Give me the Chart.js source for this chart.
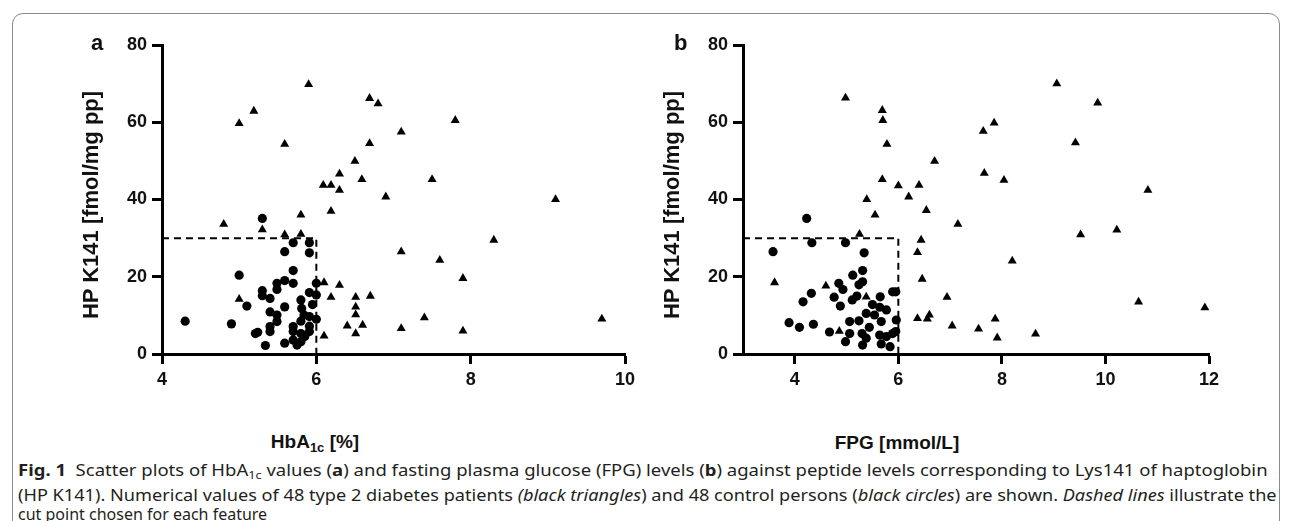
<!DOCTYPE html>
<html>
<head>
<meta charset="utf-8">
<script src="https://cdn.jsdelivr.net/npm/chart.js@4.4.1/dist/chart.umd.min.js"></script>
<style>
  html, body { margin: 0; padding: 0; background: #fff; }
  body { width: 1293px; height: 521px; position: relative; overflow: hidden; font-family: "Liberation Sans", Arial, sans-serif; }
  .frame { position: absolute; left: 12px; top: 13px; width: 1268px; height: 560px; border: 1.5px solid #8a8a8a; border-radius: 11px; box-sizing: border-box; }
  canvas { position: absolute; }
  .panel { position: absolute; font-weight: bold; font-size: 22px; color: #111; }
  .ytitle { position: absolute; font-weight: bold; font-size: 22px; color: #111; white-space: nowrap; transform: translate(-50%, -50%) rotate(-90deg); }
  .xtitle { position: absolute; font-weight: bold; font-size: 19px; color: #111; white-space: nowrap; transform: translate(-50%, -50%); }
  .xtitle sub { font-size: 13px; vertical-align: -4px; }
  .cap { position: absolute; left: 18px; font-family: "Noto Sans", sans-serif; font-size: 16px; color: #231f20; white-space: nowrap; transform-origin: 0 50%; }
  .cap sub { font-size: 11px; vertical-align: -3px; }
</style>
</head>
<body>
<div class="frame"></div>

<canvas id="chartA" width="630" height="380" style="left:20px;top:20px;width:630px;height:380px"></canvas>
<canvas id="chartB" width="570" height="380" style="left:660px;top:20px;width:570px;height:380px"></canvas>

<div class="panel" style="left:91px;top:30px">a</div>
<div class="panel" style="left:674px;top:30px">b</div>
<div class="ytitle" style="left:91px;top:205px">HP K141 [fmol/mg pp]</div>
<div class="ytitle" style="left:672px;top:205px">HP K141 [fmol/mg pp]</div>
<div class="xtitle" style="left:315px;top:443px">HbA<sub>1c</sub> [%]</div>
<div class="xtitle" style="left:897px;top:443px">FPG [mmol/L]</div>

<div class="cap" id="cap1" style="top:459px"><b>Fig. 1</b>&nbsp; Scatter plots of HbA<sub>1c</sub> values (<b>a</b>) and fasting plasma glucose (FPG) levels (<b>b</b>) against peptide levels corresponding to Lys141 of haptoglobin</div>
<div class="cap" id="cap2" style="top:484px">(HP K141). Numerical values of 48 type 2 diabetes patients <i>(black triangles</i>) and 48 control persons (<i>black circles</i>) are shown. <i>Dashed lines</i> illustrate the</div>
<div class="cap" id="cap3" style="top:503px">cut point chosen for each feature</div>

<script>
// ===== DATA =====
// panel a: HbA1c [%] vs HP K141
const hbaDiabetesX = [5.0, 5.19, 5.9, 5.59, 6.69, 6.8, 6.69, 6.5, 6.3, 6.59, 6.09, 6.19, 6.3, 6.9, 6.19,
  7.8, 7.1, 7.5, 9.1, 7.1, 7.6, 8.3, 7.9, 7.4, 7.1, 7.9, 9.7, 4.8, 5.3, 5.8, 5.59, 5.8,
  6.1, 6.3, 6.19, 6.51, 6.7, 6.51, 6.51, 6.4, 6.6, 6.51, 6.1, 5.0];
const hbaDiabetesY = [59.7, 62.9, 69.8, 54.3, 66.2, 64.8, 54.5, 49.9, 46.6, 45.2, 43.7, 43.7, 42.4, 40.7, 37.0,
  60.5, 57.5, 45.2, 40.0, 26.5, 24.3, 29.5, 19.6, 9.4, 6.6, 6.0, 9.1, 33.6, 32.2, 36.0, 30.9, 31.0,
  18.5, 17.8, 14.7, 14.7, 15.0, 12.2, 10.2, 7.3, 7.5, 5.3, 4.7, 14.2];
const hbaControlX = [5.3, 5.7, 5.91, 5.59, 5.91, 5.0, 5.7, 5.49, 5.59, 5.7, 5.49, 6.0, 5.3, 5.3, 5.4,
  5.91, 6.0, 5.8, 5.1, 5.59, 5.4, 5.49, 5.81, 5.84, 5.91, 6.0, 4.3, 4.9, 5.49, 5.8, 5.4,
  5.7, 5.91, 5.4, 5.21, 5.24, 5.7, 5.8, 5.91, 5.59, 5.7, 5.75, 5.8, 5.85, 5.34, 5.95];
const hbaControlY = [35.1, 28.8, 28.8, 26.5, 26.2, 20.4, 21.6, 18.3, 19.0, 18.3, 16.7, 18.3, 16.4, 15.1, 14.4,
  15.9, 15.3, 14.0, 12.4, 12.2, 10.9, 10.1, 11.8, 10.1, 9.7, 9.0, 8.5, 7.8, 8.4, 8.5, 7.1,
  7.1, 7.2, 5.8, 5.3, 5.6, 5.8, 5.3, 5.8, 2.8, 3.6, 2.3, 3.2, 4.5, 2.2, 12.8];
const hbaCutX = [4, 6, 6];
const hbaCutY = [30, 30, 0];

// panel b: FPG [mmol/L] vs HP K141
const fpgDiabetesX = [4.98, 5.69, 5.7, 5.78, 6.7, 5.69, 6.0, 6.4, 6.2, 5.39, 6.54, 9.06, 9.85, 7.85, 7.64,
  9.42, 7.66, 8.04, 10.82, 7.15, 9.52, 10.22, 8.2, 10.64, 11.92, 7.04, 7.87, 7.55, 7.91, 8.65,
  5.55, 5.25, 6.44, 6.37, 6.46, 3.61, 4.6, 5.38, 6.94, 6.37, 6.6, 6.56, 4.86];
const fpgDiabetesY = [66.3, 63.1, 60.5, 54.3, 49.9, 45.2, 43.6, 43.7, 40.7, 40.0, 37.2, 70.0, 65.0, 59.8, 57.7,
  54.7, 46.8, 45.0, 42.4, 33.6, 30.9, 32.1, 24.1, 13.5, 12.0, 7.3, 9.1, 6.5, 4.2, 5.2,
  36.0, 31.0, 29.5, 26.3, 19.4, 18.5, 17.6, 14.8, 14.7, 9.2, 10.1, 9.1, 5.9];
const fpgControlX = [4.23, 3.58, 4.33, 4.98, 5.34, 5.12, 5.31, 5.31, 5.24, 4.85, 4.93, 4.32, 4.16, 4.76, 5.11,
  4.88, 5.65, 5.89, 5.95, 5.64, 5.77, 5.38, 5.54, 3.89, 4.09, 4.36, 5.06, 5.24, 5.67, 5.96,
  5.44, 4.67, 5.06, 5.3, 5.38, 4.98, 5.31, 5.64, 5.67, 5.77, 5.84, 5.89, 5.95, 5.5, 5.2];
const fpgControlY = [35.1, 26.5, 28.8, 28.8, 26.2, 20.4, 21.6, 18.7, 17.9, 18.3, 16.7, 15.7, 13.5, 14.7, 14.0,
  12.4, 14.8, 16.1, 16.1, 12.1, 11.4, 10.5, 10.1, 8.1, 6.9, 7.7, 8.4, 8.6, 8.4, 8.8,
  6.9, 5.7, 5.3, 5.3, 4.1, 3.2, 2.3, 4.9, 2.6, 4.5, 1.9, 5.3, 5.8, 12.8, 15.0];
const fpgCutX = [3, 6, 6];
const fpgCutY = [30, 30, 0];

const yTicks = [0, 20, 40, 60, 80];
const hbaTicks = [4, 6, 8, 10];
const fpgTicks = [4, 6, 8, 10, 12];

// ===== HELPERS =====
function pts(xs, ys) {
  return xs.map((x, i) => ({ x: x, y: ys[i] }));
}

const tickFont = { family: "Liberation Sans", weight: "bold", size: 18 };

function axisStyle(extra) {
  return Object.assign({
    type: "linear",
    border: { display: true, color: "#000", width: 3 },
    grid: { display: true, drawOnChartArea: false, drawTicks: true, tickLength: 10, tickColor: "#000", tickWidth: 3 },
    ticks: { color: "#111", font: tickFont, padding: 5 },
  }, extra);
}

function makeChart(id, tri, circ, cut, xmin, xmax, xticks, yWidth, padRight) {
  return new Chart(document.getElementById(id), {
    type: "scatter",
    data: {
      datasets: [
        {
          data: pts(cut[0], cut[1]),
          showLine: true,
          borderColor: "#000",
          borderWidth: 2,
          borderDash: [7, 5],
          pointRadius: 0,
          fill: false,
        },
        {
          data: pts(tri[0], tri[1]),
          pointStyle: "triangle",
          pointRadius: 5.2,
          backgroundColor: "#000",
          borderColor: "#000",
          borderWidth: 0,
          clip: false,
        },
        {
          data: pts(circ[0], circ[1]),
          pointStyle: "circle",
          pointRadius: 4.6,
          backgroundColor: "#000",
          borderColor: "#000",
          borderWidth: 0,
          clip: false,
        },
      ],
    },
    options: {
      responsive: false,
      animation: false,
      layout: { padding: { top: 25, right: padRight, bottom: 0, left: 0 } },
      plugins: { legend: { display: false }, tooltip: { enabled: false } },
      scales: {
        x: axisStyle({
          min: xmin,
          max: xmax,
          afterBuildTicks: (s) => { s.ticks = xticks.map((v) => ({ value: v })); },
          afterFit: (s) => { s.height = 46; },
        }),
        y: axisStyle({
          min: 0,
          max: 80,
          afterBuildTicks: (s) => { s.ticks = yTicks.map((v) => ({ value: v })); },
          afterFit: (s) => { s.width = yWidth; },
        }),
      },
    },
  });
}

makeChart("chartA", [hbaDiabetesX, hbaDiabetesY], [hbaControlX, hbaControlY], [hbaCutX, hbaCutY], 4, 10, hbaTicks, 142, 25);
makeChart("chartB", [fpgDiabetesX, fpgDiabetesY], [fpgControlX, fpgControlY], [fpgCutX, fpgCutY], 3, 12, fpgTicks, 83, 21);

// fit caption lines to their width in the figure
[["cap1", 1250], ["cap2", 1259]].forEach(([id, w]) => {
  const el = document.getElementById(id);
  const real = el.scrollWidth;
  el.style.transform = "scaleX(" + (w / real) + ")";
});
</script>
</body>
</html>
